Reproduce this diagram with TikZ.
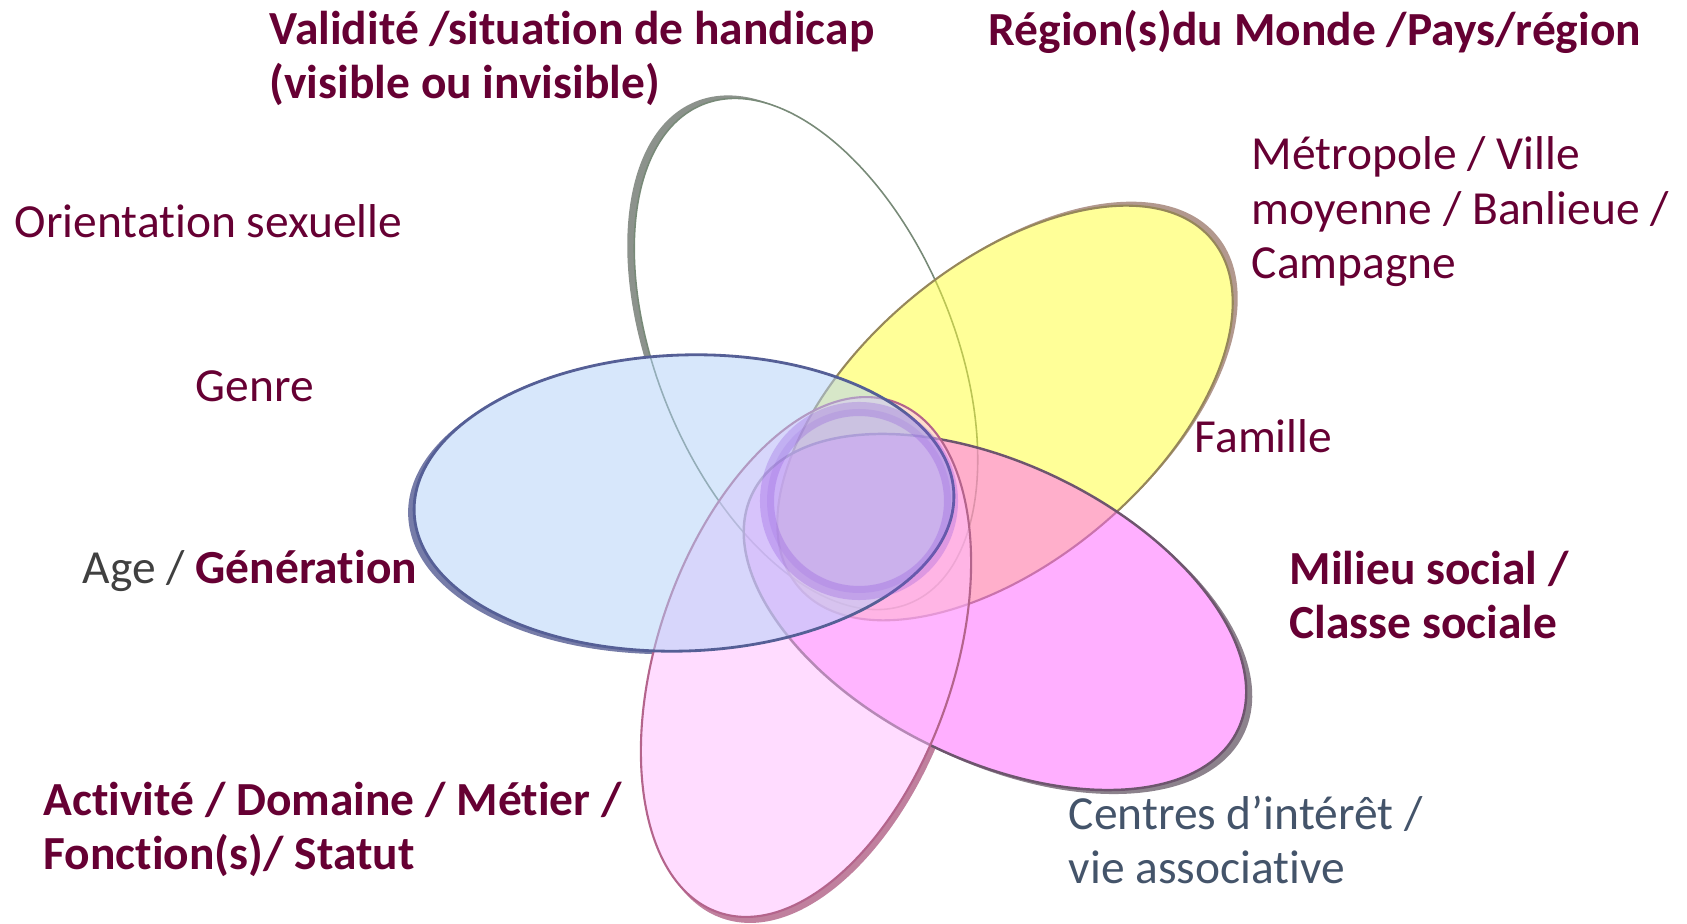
\documentclass[tikz,border=0pt]{standalone}
\usepackage{fontspec}
\setmainfont{Carlito}[Ligatures=NoCommon]
\usepackage{tikz}
\definecolor{lblred}{RGB}{102,0,51}
\definecolor{agegray}{RGB}{64,64,64}
\definecolor{slate}{RGB}{68,84,106}
\definecolor{bluefill}{RGB}{177,209,249}
\definecolor{yelfill}{RGB}{255,255,51}
\definecolor{magfill}{RGB}{255,97,255}
\definecolor{pinkfill}{RGB}{255,187,255}
\definecolor{topedge}{RGB}{120,138,120}
\definecolor{yeledge}{RGB}{150,135,90}
\definecolor{magedge}{RGB}{110,85,110}
\definecolor{pinkedge}{RGB}{180,100,140}
\definecolor{blueedge}{RGB}{85,95,150}
\definecolor{topshd}{RGB}{140,146,140}
\definecolor{yelshd}{RGB}{178,152,142}
\definecolor{magshd}{RGB}{140,130,140}
\definecolor{pinkshd}{RGB}{192,128,158}
\definecolor{blueshd}{RGB}{118,124,168}
\definecolor{ringc}{RGB}{140,80,220}

\begin{document}
\begin{tikzpicture}[x=0.01cm, y=0.01cm,
		petal/.style={x radius=270, y radius=148},
		lbl/.style={anchor=base west, inner sep=0pt, align=left, text=lblred, font=\fontsize{13.5}{15.6}\selectfont},
		blbl/.style={lbl, font=\fontsize{13.5}{15.6}\selectfont\bfseries}]
				\useasboundingbox (0,0) rectangle (1687,924);
				% shadows of the petals
				\foreach \cx/\cy/\rot/\dx/\dy/\shd in {806/570/112.7/-7/3/topshd, 1005/511/40/5/4/yelshd, 995/312/-26/6/-4/magshd, 806/267/-108.9/4/-6/pinkshd, 684/421/2/-6/-3/blueshd} {
					\fill[\shd, rotate around={\rot:(\cx+\dx,\cy+\dy)}] (\cx+\dx,\cy+\dy) ellipse [petal];
				}
				\foreach \cx/\cy/\rot in {806/570/112.7, 1005/511/40, 995/312/-26, 806/267/-108.9, 684/421/2} {
					\fill[white, rotate around={\rot:(\cx,\cy)}] (\cx,\cy) ellipse [petal];
				}
				% petals
				\foreach \cx/\cy/\rot/\fc/\ec/\lw in {806/570/112.7/white/topedge/.45, 1005/511/40/yelfill/yeledge/.6, 995/312/-26/magfill/magedge/.7, 806/267/-108.9/pinkfill/pinkedge/.6, 684/421/2/bluefill/blueedge/.8} {
					\filldraw[fill=\fc, fill opacity=.5, draw=\ec, line width=\lw pt, rotate around={\rot:(\cx,\cy)}] (\cx,\cy) ellipse [petal];
				}
				\filldraw[fill=ringc, fill opacity=.15, draw=ringc, draw opacity=.28, line width=4pt] (859,423) circle [radius=92];
				% labels (base = last line)
				\node[blbl] (handicap) at (269,825) {Validité /situation de handicap\\(visible ou invisible)};
				\node[blbl] (region) at (988,878) {Région(s)du Monde /Pays/région};
				\node[lbl] (ville) at (1251,645) {Métropole / Ville\\moyenne / Banlieue /\\Campagne};
				\node[lbl] (orient) at (14,686) {Orientation sexuelle};
				\node[lbl] (genre) at (195,522) {Genre};
				\node[lbl] (famille) at (1194,471) {Famille};
				\node[lbl, text=agegray] (age) at (82,340) {Age / \textcolor{lblred}{\bfseries Génération}};
				\node[blbl] (milieu) at (1289,285) {Milieu social /\\Classe sociale};
				\node[blbl] (activite) at (43,54) {Activité / Domaine / Métier /\\Fonction(s)/ Statut};
				\node[lbl, text=slate] (interets) at (1068,40) {Centres d’intérêt /\\vie associative};
\end{tikzpicture}
\end{document}
